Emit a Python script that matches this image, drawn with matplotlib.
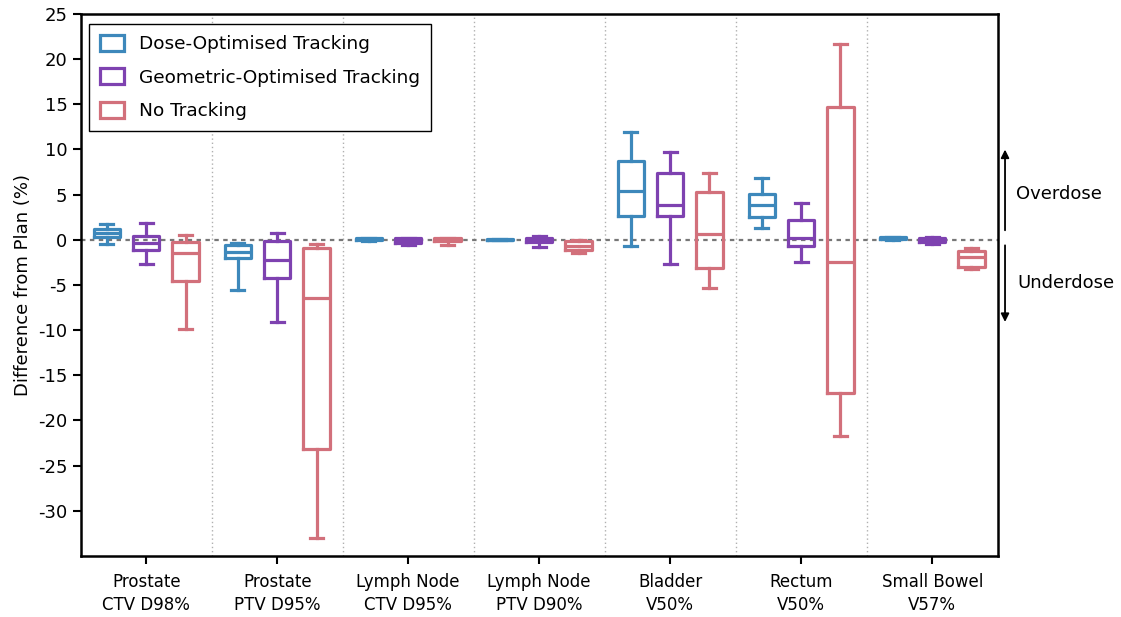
import matplotlib
matplotlib.use("Agg")
import matplotlib.pyplot as plt
from matplotlib.patches import Patch

plt.rcParams['font.family'] = ['DejaVu Sans']

categories = ["Prostate\nCTV D98%", "Prostate\nPTV D95%", "Lymph Node\nCTV D95%",
              "Lymph Node\nPTV D90%", "Bladder\nV50%", "Rectum\nV50%", "Small Bowel\nV57%"]
series_names = ["Dose-Optimised Tracking", "Geometric-Optimised Tracking", "No Tracking"]
colors = ["#3d88bb", "#7e42b0", "#d2707b"]

# Box statistics per structure: lower whisker, Q1, median, Q3, upper whisker
dose_whislo = [-0.45, -5.5, -0.10, -0.05, -0.63, 1.29, 0.00]
dose_q1 = [0.35, -2.05, -0.02, 0.00, 2.66, 2.51, 0.08]
dose_med = [0.75, -1.40, 0.08, 0.02, 5.46, 3.88, 0.18]
dose_q3 = [1.15, -0.55, 0.18, 0.05, 8.75, 5.02, 0.28]
dose_whishi = [1.75, -0.30, 0.25, 0.10, 11.9, 6.87, 0.35]

geo_whislo = [-2.65, -9.08, -0.55, -0.78, -2.66, -2.47, -0.45]
geo_q1 = [-1.10, -4.24, -0.30, -0.19, 2.69, -0.66, -0.26]
geo_med = [-0.30, -2.20, -0.05, 0.00, 3.88, 0.18, -0.05]
geo_q3 = [0.37, -0.15, 0.15, 0.25, 7.38, 2.21, 0.18]
geo_whishi = [1.85, 0.77, 0.25, 0.40, 9.75, 4.13, 0.30]

none_whislo = [-9.9, -33.0, -0.60, -1.50, -5.35, -21.7, -3.25]
none_q1 = [-4.58, -23.2, -0.15, -1.14, -3.14, -16.98, -3.03]
none_med = [-1.48, -6.46, 0.05, -0.70, 0.59, -2.47, -1.85]
none_q3 = [-0.26, -0.92, 0.15, -0.10, 5.24, 14.65, -1.29]
none_whishi = [0.55, -0.44, 0.20, -0.05, 7.38, 21.7, -0.92]

series_stats = [
    (dose_whislo, dose_q1, dose_med, dose_q3, dose_whishi),
    (geo_whislo, geo_q1, geo_med, geo_q3, geo_whishi),
    (none_whislo, none_q1, none_med, none_q3, none_whishi),
]

fig = plt.figure(figsize=(11.21, 6.17), dpi=100)
ax = fig.add_axes([0.0720, 0.0989, 0.8180, 0.8784])

offsets = [-0.3, 0.0, 0.3]
box_width = 0.2
lw = 2.3

# separators between structures and the zero reference
for k in range(len(categories) - 1):
    ax.axvline(k + 0.5, color="#b0b0b0", linestyle=(0, (1, 2)), linewidth=1.0, zorder=0)
ax.axhline(0, color="#777777", linestyle=(0, (2, 2)), linewidth=1.6, zorder=0.5)

for s, (wlo, q1, med, q3, whi) in enumerate(series_stats):
    stats = []
    for i in range(len(categories)):
        stats.append(dict(whislo=wlo[i], q1=q1[i], med=med[i], q3=q3[i], whishi=whi[i], fliers=[]))
    pos = [i + offsets[s] for i in range(len(categories))]
    c = colors[s]
    ax.bxp(stats, positions=pos, widths=box_width, showfliers=False, patch_artist=False,
           boxprops=dict(color=c, linewidth=lw),
           medianprops=dict(color=c, linewidth=lw),
           whiskerprops=dict(color=c, linewidth=lw),
           capprops=dict(color=c, linewidth=lw),
           manage_ticks=False)

ax.set_xlim(-0.5, 6.5)
ax.set_ylim(-35, 25)
ax.set_xticks(range(len(categories)))
ax.set_xticklabels(categories, fontsize=12, linespacing=1.4)
ax.set_yticks(range(-30, 26, 5))
ax.set_yticklabels([str(v) for v in range(-30, 26, 5)], fontsize=13)
ax.tick_params(axis="both", direction="out", length=6, width=1.5)
ax.tick_params(axis="x", pad=6)
for sp in ax.spines.values():
    sp.set_linewidth(1.8)
ax.set_ylabel("Difference from Plan (%)", fontsize=13, labelpad=4)

handles = [Patch(facecolor="white", edgecolor=c, linewidth=2.3, label=n)
           for c, n in zip(colors, series_names)]
leg = ax.legend(handles=handles, loc="upper left", fontsize=13.3, frameon=True,
                fancybox=False, edgecolor="black", framealpha=1,
                bbox_to_anchor=(0.009, 0.982), borderaxespad=0, labelspacing=0.82,
                handlelength=1.3, handleheight=0.95, borderpad=0.6, handletextpad=0.8)
leg.get_frame().set_linewidth(1.0)

# over/underdose indicators beside the axes
trans = ax.get_yaxis_transform()
ax.annotate("", xy=(1.008, 10.3), xytext=(1.008, 0.75), xycoords=trans, textcoords=trans,
            arrowprops=dict(arrowstyle="-|>", color="black", lw=1.3, mutation_scale=12),
            annotation_clip=False)
ax.annotate("", xy=(1.008, -9.4), xytext=(1.008, -0.3), xycoords=trans, textcoords=trans,
            arrowprops=dict(arrowstyle="-|>", color="black", lw=1.3, mutation_scale=12),
            annotation_clip=False)
ax.text(1.0205, 5.1, "Overdose", transform=trans, fontsize=13, va="center", ha="left", clip_on=False)
ax.text(1.022, -4.8, "Underdose", transform=trans, fontsize=13, va="center", ha="left", clip_on=False)

fig.savefig("out.png", dpi=100)
